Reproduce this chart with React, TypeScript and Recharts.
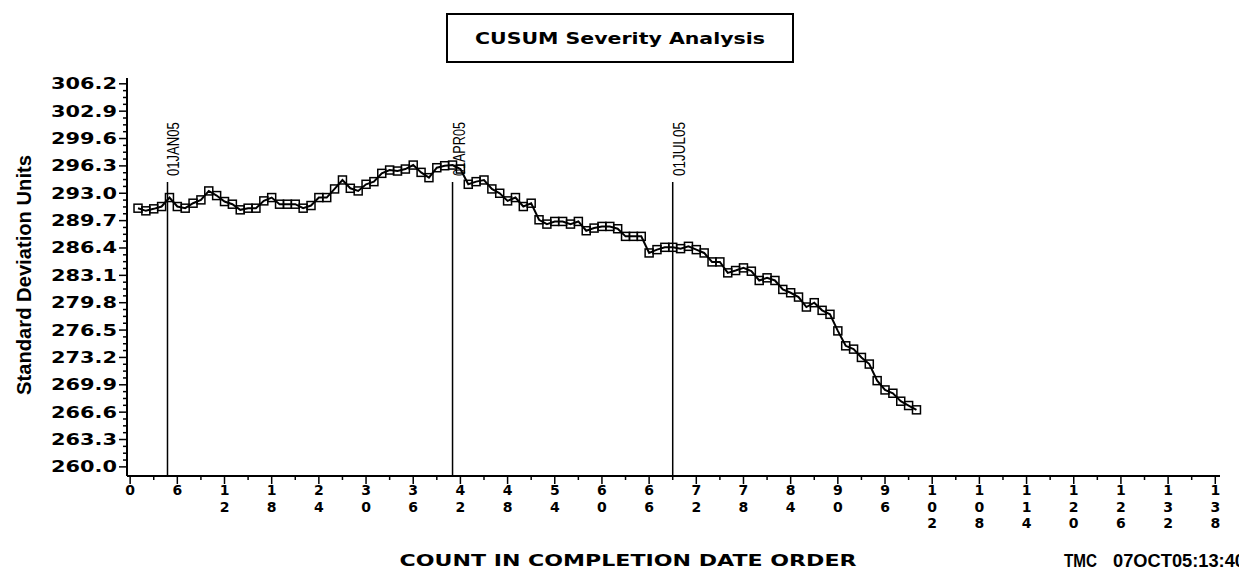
import { LineChart, Line, XAxis, YAxis, ReferenceLine } from "recharts";

// count in completion date order
const counts = [
  1, 2, 3, 4, 5, 6, 7, 8, 9, 10, 11, 12, 13, 14, 15, 16, 17, 18, 19, 20,
  21, 22, 23, 24, 25, 26, 27, 28, 29, 30, 31, 32, 33, 34, 35, 36, 37, 38, 39, 40,
  41, 42, 43, 44, 45, 46, 47, 48, 49, 50, 51, 52, 53, 54, 55, 56, 57, 58, 59, 60,
  61, 62, 63, 64, 65, 66, 67, 68, 69, 70, 71, 72, 73, 74, 75, 76, 77, 78, 79, 80,
  81, 82, 83, 84, 85, 86, 87, 88, 89, 90, 91, 92, 93, 94, 95, 96, 97, 98, 99, 100,
];

// CUSUM severity, standard deviation units
const cusum = [
  291.2, 290.88, 291.12, 291.4, 292.48, 291.4, 291.2, 291.8, 292.2, 293.28,
  292.72, 292.0, 291.68, 291.0, 291.2, 291.2, 292.08, 292.48, 291.68, 291.68,
  291.68, 291.2, 291.52, 292.48, 292.48, 293.52, 294.6, 293.6, 293.28, 294.08,
  294.4, 295.4, 295.8, 295.68, 295.92, 296.4, 295.52, 294.88, 296.08, 296.32,
  296.4, 295.92, 294.08, 294.4, 294.6, 293.52, 293.0, 292.08, 292.48, 291.4,
  291.8, 289.8, 289.28, 289.6, 289.6, 289.28, 289.6, 288.48, 288.8, 289.0,
  289.0, 288.72, 287.8, 287.8, 287.8, 285.8, 286.2, 286.48, 286.48, 286.32,
  286.6, 286.2, 285.8, 284.72, 284.72, 283.4, 283.68, 284.0, 283.6, 282.48,
  282.8, 282.48, 281.4, 281.0, 280.48, 279.28, 279.8, 278.88, 278.4, 276.4,
  274.6, 274.2, 273.2, 272.4, 270.4, 269.28, 268.88, 267.92, 267.4, 266.88,
];

const refDates = ["01JAN05", "01APR05", "01JUL05"];
const refCounts = [4.75, 41, 69];
const refTop = 294.35;

const xTickLabels = [
  "0", "6", "12", "18", "24", "30", "36", "42", "48", "54", "60", "66",
  "72", "78", "84", "90", "96", "102", "108", "114", "120", "126", "132", "138",
];
const yTickLabels = [
  "260.0", "263.3", "266.6", "269.9", "273.2", "276.5", "279.8", "283.1",
  "286.4", "289.7", "293.0", "296.3", "299.6", "302.9", "306.2",
];

const xMajor = xTickLabels.map(Number);
const xMinor = xMajor.slice(0, -1).map((t) => t + 3);
const yMajor = yTickLabels.map(Number);
const yMinor: number[] = [];
for (let i = 0; i < yMajor.length - 1; i++) {
  const step = (yMajor[i + 1] - yMajor[i]) / 4;
  for (let k = 1; k < 4; k++) yMinor.push(yMajor[i] + k * step);
}

const data = counts.map((c, i) => ({ count: c, value: cusum[i] }));

const TICK_FONT = "'DejaVu Sans', sans-serif";
const NARROW_FONT = "'Liberation Sans', Arial, sans-serif";

function isMajor(list: number[], v: number) {
  return list.some((m) => Math.abs(m - v) < 1e-6);
}

function YTick({ x, y, payload }: any) {
  const v = payload.value;
  const major = isMajor(yMajor, v);
  return (
    <g>
      <line x1={x - (major ? 8 : 4)} x2={x} y1={y} y2={y} stroke="#000" strokeWidth={1.5} />
      {major && (
        <text
          x={x - 10}
          y={y + 5.5}
          textAnchor="end"
          fontFamily={TICK_FONT}
          fontWeight="bold"
          fontSize={15}
          textLength={66}
          lengthAdjust="spacingAndGlyphs"
          fill="#000"
        >
          {v.toFixed(1)}
        </text>
      )}
    </g>
  );
}

function XTick({ x, y, payload }: any) {
  const v = payload.value;
  const major = isMajor(xMajor, v);
  const digits = major ? String(v).split("") : [];
  return (
    <g>
      <line x1={x} x2={x} y1={y} y2={y + (major ? 8 : 4)} stroke="#000" strokeWidth={1.5} />
      {digits.map((d, i) => (
        <text
          key={i}
          x={x}
          y={y + 19 + i * 16.5}
          textAnchor="middle"
          fontFamily={TICK_FONT}
          fontWeight="bold"
          fontSize={14}
          fill="#000"
        >
          {d}
        </text>
      ))}
    </g>
  );
}

function RefLabel({ viewBox, text }: any) {
  if (!viewBox) return null;
  const bx = viewBox.x + 12;
  const by = viewBox.y - 6;
  return (
    <text
      x={bx}
      y={by}
      transform={`rotate(-90 ${bx} ${by})`}
      textAnchor="start"
      fontFamily={NARROW_FONT}
      fontSize={16}
      textLength={54}
      lengthAdjust="spacingAndGlyphs"
      fill="#000"
    >
      {text}
    </text>
  );
}

function Square(props: any) {
  const { cx, cy, index } = props;
  if (cx == null || cy == null) return <g key={`d${index}`} />;
  return (
    <rect
      key={`d${index}`}
      x={cx - 4}
      y={cy - 4}
      width={8}
      height={8}
      fill="none"
      stroke="#000"
      strokeWidth={1.5}
    />
  );
}

export default function App() {
  return (
    <div style={{ position: "absolute", left: 0, top: 0, width: 1239, height: 570, background: "#fff" }}>
      <LineChart
        width={1239}
        height={570}
        data={data}
        margin={{ top: 78, right: 19, left: 0, bottom: 0 }}
      >
        <XAxis
          dataKey="count"
          type="number"
          domain={[-0.4, 138.6]}
          allowDataOverflow
          ticks={[...xMajor, ...xMinor].sort((a, b) => a - b)}
          interval={0}
          height={94}
          tickSize={0}
          tickMargin={0}
          tickLine={false}
          axisLine={{ stroke: "#000", strokeWidth: 2 }}
          tick={<XTick />}
        />
        <YAxis
          type="number"
          domain={[258.9, 306.9]}
          allowDataOverflow
          ticks={[...yMajor, ...yMinor].sort((a, b) => a - b)}
          interval={0}
          width={127}
          tickSize={0}
          tickMargin={0}
          tickLine={false}
          axisLine={{ stroke: "#000", strokeWidth: 2 }}
          tick={<YTick />}
        />
        {refCounts.map((c, i) => (
          <ReferenceLine
            key={refDates[i]}
            segment={[
              { x: c, y: refTop },
              { x: c, y: 258.9 },
            ]}
            stroke="#000"
            strokeWidth={1.5}
            label={<RefLabel text={refDates[i]} />}
          />
        ))}
        <Line
          type="linear"
          dataKey="value"
          stroke="#000"
          strokeWidth={2}
          dot={Square}
          activeDot={false}
          isAnimationActive={false}
        />
      </LineChart>
      <svg
        width={1239}
        height={570}
        style={{ position: "absolute", left: 0, top: 0, pointerEvents: "none" }}
      >
        <rect x={447} y={14} width={346} height={48} fill="none" stroke="#000" strokeWidth={2} />
        <text
          x={620}
          y={43.5}
          textAnchor="middle"
          fontFamily={TICK_FONT}
          fontWeight="bold"
          fontSize={15}
          textLength={290}
          lengthAdjust="spacingAndGlyphs"
        >
          CUSUM Severity Analysis
        </text>
        <text
          x={31}
          y={275}
          transform="rotate(-90 31 275)"
          textAnchor="middle"
          fontFamily={NARROW_FONT}
          fontWeight="bold"
          fontSize={20}
          textLength={240}
          lengthAdjust="spacingAndGlyphs"
        >
          Standard Deviation Units
        </text>
        <text
          x={628}
          y={566}
          textAnchor="middle"
          fontFamily={TICK_FONT}
          fontWeight="bold"
          fontSize={15}
          textLength={457}
          lengthAdjust="spacingAndGlyphs"
        >
          COUNT IN COMPLETION DATE ORDER
        </text>
        <text
          x={1064}
          y={567}
          fontFamily={NARROW_FONT}
          fontWeight="bold"
          fontSize={19}
          textLength={33}
          lengthAdjust="spacingAndGlyphs"
        >
          TMC
        </text>
        <text
          x={1113}
          y={567}
          fontFamily={NARROW_FONT}
          fontWeight="bold"
          fontSize={19}
          textLength={132}
          lengthAdjust="spacingAndGlyphs"
        >
          07OCT05:13:40
        </text>
      </svg>
    </div>
  );
}
